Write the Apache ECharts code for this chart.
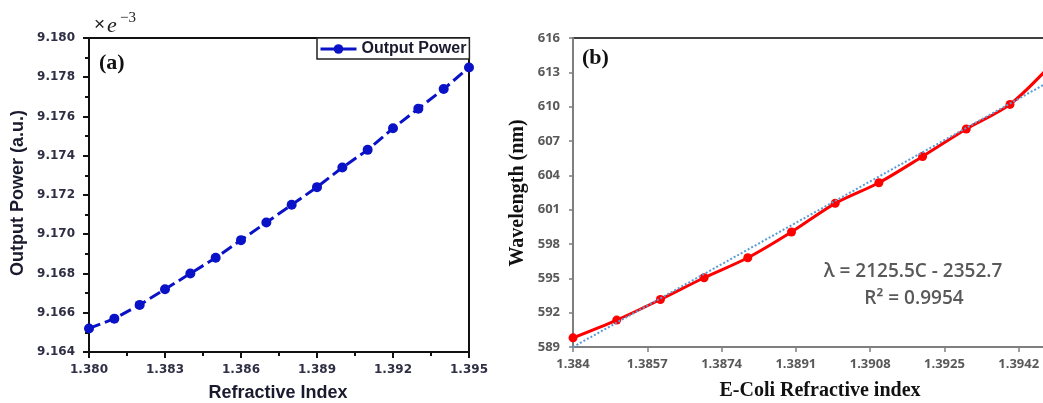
<!DOCTYPE html>
<html>
<head>
<meta charset="utf-8">
<script src="https://cdn.jsdelivr.net/npm/echarts@6/dist/echarts.min.js"></script>
<style>
  html, body { margin: 0; padding: 0; background: #fff; }
  #chart { width: 1043px; height: 403px; }
</style>
</head>
<body>
<div id="chart"></div>
<script>
// (a) output power vs refractive index
const refIndexA = [1.380, 1.381, 1.382, 1.383, 1.384, 1.385, 1.386, 1.387,
                   1.388, 1.389, 1.390, 1.391, 1.392, 1.393, 1.394, 1.395]
const outputPowerA = [9.1652, 9.1657, 9.1664, 9.1672, 9.1680, 9.1688, 9.1697, 9.1706,
                      9.1715, 9.1724, 9.1734, 9.1743, 9.1754, 9.1764, 9.1774, 9.1785]

// (b) wavelength vs E-Coli refractive index
const refIndexB = [1.384, 1.385, 1.386, 1.387, 1.388, 1.389,
                   1.390, 1.391, 1.392, 1.393, 1.394, 1.395]
const wavelengthB = [589.8, 591.35, 593.15, 595.05, 596.8, 599.05,
                     601.55, 603.35, 605.65, 608.05, 610.2, 613.9]
// linear fit drawn as dotted line (end points)
const trendX = [1.384, 1.395]
const trendY = [589.0, 612.4]

const axisA = { xMin: 1.380, xMax: 1.395, xStep: 0.003, yMin: 9.164, yMax: 9.180, yStep: 0.002 }
const axisB = { xMin: 1.384, xMax: 1.3959, xStep: 0.0017, yMin: 589, yMax: 616, yStep: 3 }

const fitText = ['λ = 2125.5C - 2352.7', 'R² = 0.9954']

const zip = (xs, ys) => xs.map((x, i) => [x, ys[i]])

const dark = '#111'
const grayB = '#7f7f7f'
const labA = { fontFamily: 'DejaVu Sans', fontWeight: 'bold', fontSize: 12, color: '#2e2e44' }
const labB = { fontFamily: 'Open Sans', fontWeight: 'bold', fontSize: 13, color: '#595959' }

const chart = echarts.init(document.getElementById('chart'))

chart.setOption({
  animation: false,
  grid: [
    { left: 89, top: 38, width: 380, height: 314, outerBoundsMode: 'none', show: true, borderColor: dark, borderWidth: 2 },
    { left: 573, top: 38, width: 520, height: 309, outerBoundsMode: 'none', show: true, borderColor: '#404040', borderWidth: 2 },
  ],
  legend: {
    data: ['Output Power'],
    left: 317, top: 38,
    padding: [3, 3, 2, 2],
    itemWidth: 36, itemHeight: 12,
    borderColor: '#222', borderWidth: 1.5,
    backgroundColor: '#fff',
    lineStyle: { type: 'solid', width: 3 },
    textStyle: { fontFamily: 'Liberation Sans', fontWeight: 'bold', fontSize: 16, color: '#1a1a2e' },
  },
  xAxis: [
    {
      type: 'value', gridIndex: 0,
      min: axisA.xMin, max: axisA.xMax, interval: axisA.xStep,
      axisLine: { onZero: false, lineStyle: { color: dark, width: 2 } },
      axisTick: { length: 6, lineStyle: { color: dark, width: 2 } },
      minorTick: { show: true, splitNumber: 2, length: 4, lineStyle: { color: dark, width: 2 } },
      splitLine: { show: false },
      axisLabel: { ...labA, margin: 12, formatter: v => v.toFixed(3) },
    },
    {
      type: 'value', gridIndex: 1,
      min: axisB.xMin, max: axisB.xMax, interval: axisB.xStep,
      axisLine: { onZero: false, lineStyle: { color: grayB, width: 2 } },
      axisTick: { length: 5, lineStyle: { color: grayB, width: 1.5 } },
      splitLine: { show: false },
      axisLabel: { ...labB, margin: 11, formatter: v => String(+v.toFixed(4)) },
    },
  ],
  yAxis: [
    {
      type: 'value', gridIndex: 0,
      min: axisA.yMin, max: axisA.yMax, interval: axisA.yStep,
      axisLine: { show: true, onZero: false, lineStyle: { color: dark, width: 2 } },
      axisTick: { show: true, length: 6, lineStyle: { color: dark, width: 2 } },
      minorTick: { show: true, splitNumber: 2, length: 4, lineStyle: { color: dark, width: 2 } },
      splitLine: { show: false },
      axisLabel: { ...labA, margin: 14, formatter: v => v.toFixed(3) },
    },
    {
      type: 'value', gridIndex: 1,
      min: axisB.yMin, max: axisB.yMax, interval: axisB.yStep,
      axisLine: { show: true, onZero: false, lineStyle: { color: grayB, width: 2 } },
      axisTick: { show: true, length: 4, lineStyle: { color: grayB, width: 1.5 } },
      splitLine: { show: false },
      axisLabel: { ...labB, margin: 13, formatter: v => String(Math.round(v)) },
    },
  ],
  series: [
    {
      name: 'Output Power',
      type: 'line', xAxisIndex: 0, yAxisIndex: 0,
      data: zip(refIndexA, outputPowerA),
      symbol: 'circle', symbolSize: 10,
      itemStyle: { color: '#0a12c8' },
      lineStyle: { color: '#0a12c8', width: 3, type: [12, 5] },
    },
    {
      name: 'Wavelength',
      type: 'line', xAxisIndex: 1, yAxisIndex: 1,
      data: zip(refIndexB, wavelengthB),
      smooth: 0.3,
      symbol: 'circle', symbolSize: 9,
      itemStyle: { color: '#ff0000' },
      lineStyle: { color: '#ff0000', width: 3 },
      z: 2,
    },
    {
      name: 'Linear fit',
      type: 'line', xAxisIndex: 1, yAxisIndex: 1,
      data: zip(trendX, trendY),
      symbol: 'none',
      lineStyle: { color: '#5b9bd5', width: 2, type: [2, 2] },
      z: 3,
    },
  ],
  graphic: [
    // exponent note above (a)
    { type: 'text', x: 94, y: 25, style: { text: '×', font: '19px "Liberation Sans"', fill: '#222', verticalAlign: 'middle' } },
    { type: 'text', x: 107, y: 26, style: { text: 'e', font: 'italic 22px "Liberation Serif"', fill: '#222', verticalAlign: 'middle' } },
    { type: 'text', x: 120, y: 18, style: { text: '−3', font: '15px "Liberation Serif"', fill: '#222', verticalAlign: 'middle' } },
    // panel tags
    { type: 'text', x: 99, y: 63, style: { text: '(a)', font: 'bold 22px "Liberation Serif"', fill: '#111', verticalAlign: 'middle' } },
    { type: 'text', x: 582, y: 58, style: { text: '(b)', font: 'bold 22px "Liberation Serif"', fill: '#111', verticalAlign: 'middle' } },
    // axis titles
    { type: 'text', x: 18, y: 193, rotation: Math.PI / 2,
      style: { text: 'Output Power (a.u.)', font: 'bold 18px "Liberation Sans"', fill: '#1a1a2e', align: 'center', verticalAlign: 'middle' } },
    { type: 'text', x: 278, y: 393,
      style: { text: 'Refractive Index', font: 'bold 18px "Liberation Sans"', fill: '#1a1a2e', align: 'center', verticalAlign: 'middle' } },
    { type: 'text', x: 518, y: 193, rotation: Math.PI / 2,
      style: { text: 'Wavelength (nm)', font: 'bold 20px "Liberation Serif"', fill: '#111', align: 'center', verticalAlign: 'middle' } },
    { type: 'text', x: 820, y: 391,
      style: { text: 'E-Coli Refractive index', font: 'bold 20px "Liberation Serif"', fill: '#111', align: 'center', verticalAlign: 'middle' } },
    // fit equation
    { type: 'text', x: 913, y: 272,
      style: { text: fitText[0], font: '600 19px "Open Sans"', fill: '#595959', align: 'center', verticalAlign: 'middle' } },
    { type: 'text', x: 914, y: 299,
      style: { text: fitText[1], font: '600 19px "Open Sans"', fill: '#595959', align: 'center', verticalAlign: 'middle' } },
  ],
})
</script>
</body>
</html>
